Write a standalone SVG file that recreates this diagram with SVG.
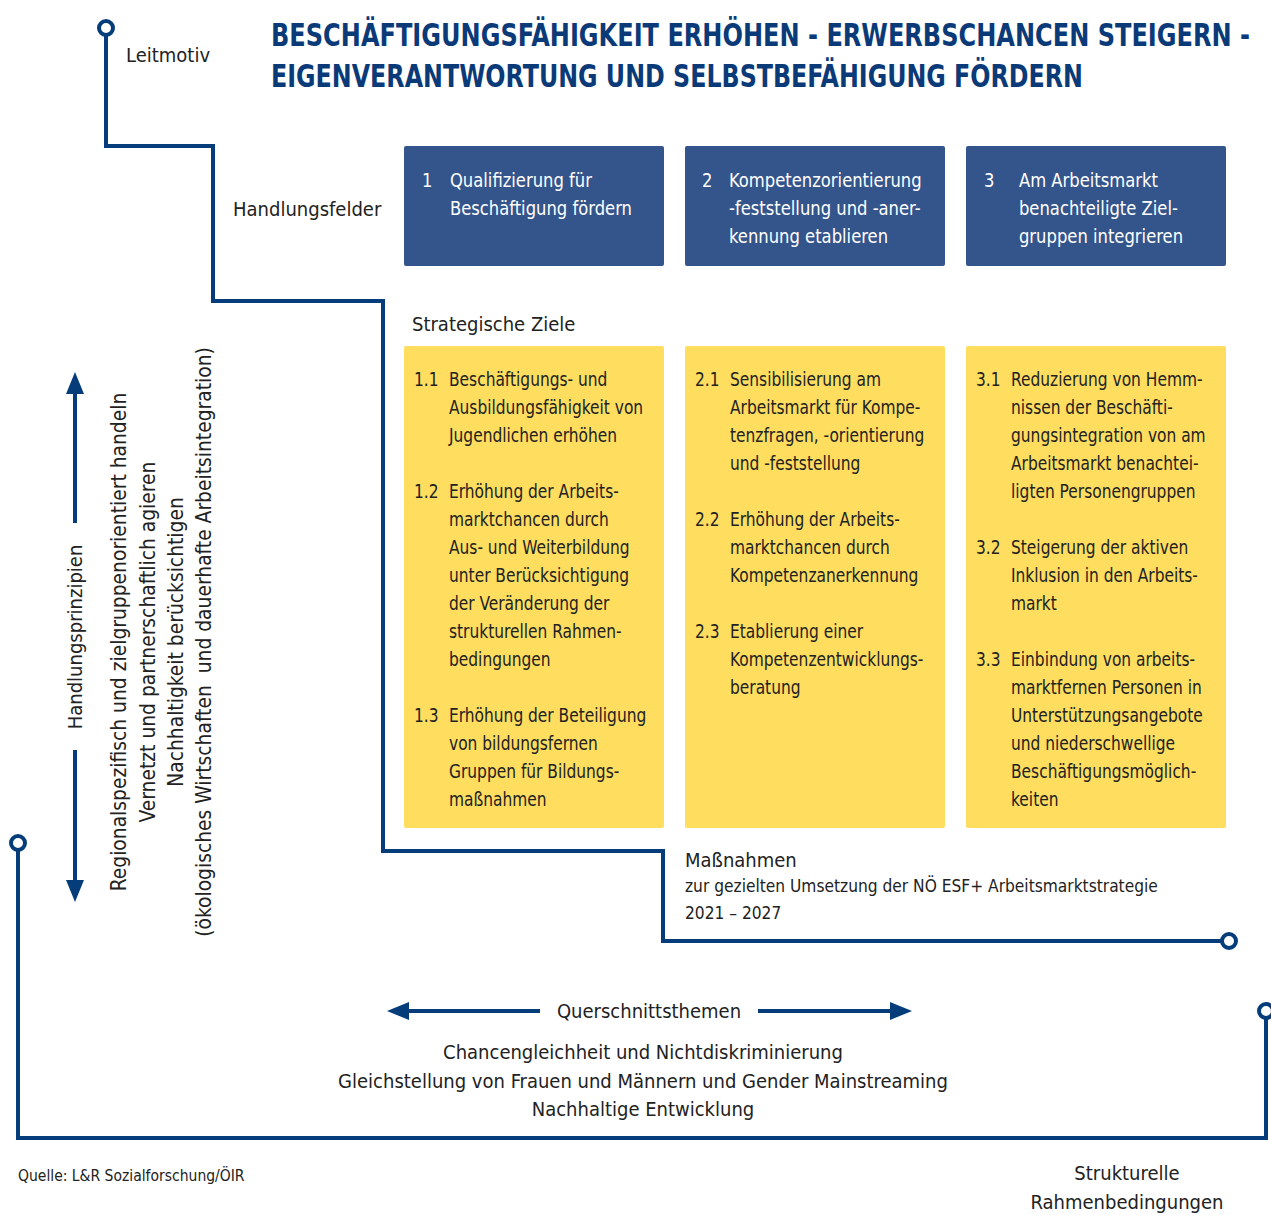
<svg xmlns="http://www.w3.org/2000/svg" width="1271" height="1215" viewBox="0 0 1271 1215">
<defs>
<style>
text{font-family:"DejaVu Sans Condensed","DejaVu Sans","Liberation Sans",sans-serif;font-stretch:condensed;fill:#222;}
.t{font-size:19.5px;}
.w{fill:#fff;font-size:19.5px;}
.lab{font-size:20px;}
.vl{font-size:20.8px;}
.title{font-size:32px;font-weight:bold;fill:#0b3a78;}
.ln{fill:none;stroke:#053d7b;stroke-width:4;}
.dot{fill:#fff;stroke:#053d7b;stroke-width:4;}
.blue{fill:#34558b;}
.yel{fill:#fedd5f;}
.ah{fill:#053d7b;}
</style>
</defs>
<rect width="1271" height="1215" fill="#fff"/>
<g id="connectors">
<polyline class="ln" points="106,35 106,146 213,146 213,301 383,301 383,851 663,851 663,941 1222,941"/>
<circle class="dot" cx="106" cy="28" r="7"/>
<circle class="dot" cx="1229" cy="941" r="7"/>
<polyline class="ln" points="18,850 18,1138 1266,1138 1266,1018"/>
<circle class="dot" cx="18" cy="843" r="7"/>
<circle class="dot" cx="1266" cy="1011" r="7"/>
<line class="ln" x1="75" y1="390" x2="75" y2="523"/>
<line class="ln" x1="75" y1="750" x2="75" y2="885"/>
<polygon class="ah" points="75,372 66,394 84,394"/>
<polygon class="ah" points="75,902 66,880 84,880"/>
<line class="ln" x1="405" y1="1011" x2="540" y2="1011"/>
<line class="ln" x1="758" y1="1011" x2="893" y2="1011"/>
<polygon class="ah" points="387,1011 409,1002 409,1020"/>
<polygon class="ah" points="912,1011 890,1002 890,1020"/>
</g>
<g id="title" transform="translate(271,0) scale(0.8,1)">
<text class="title" x="0" y="46" textLength="1223.75" lengthAdjust="spacingAndGlyphs">BESCHÄFTIGUNGSFÄHIGKEIT ERHÖHEN - ERWERBSCHANCEN STEIGERN -</text>
<text class="title" x="0" y="87" textLength="1015" lengthAdjust="spacingAndGlyphs">EIGENVERANTWORTUNG UND SELBSTBEFÄHIGUNG FÖRDERN</text>
</g>
<g id="labels">
<text class="lab" x="126" y="62">Leitmotiv</text>
<text class="lab" x="233" y="216">Handlungsfelder</text>
<text class="lab" x="412" y="331">Strategische Ziele</text>
<text class="lab" x="685" y="867" font-size="21">Maßnahmen</text>
<text x="685" y="892" font-size="17.2">zur gezielten Umsetzung der NÖ ESF+ Arbeitsmarktstrategie</text>
<text x="685" y="919" font-size="17.2">2021 – 2027</text>
</g>
<g id="hf1">
<rect class="blue" x="404" y="146" width="260" height="120" rx="2"/>
<g transform="translate(422,0) scale(0.935,1)">
<text class="w" x="0" y="187">1</text>
<text class="w"><tspan x="29.9" y="187">Qualifizierung für</tspan><tspan x="29.9" y="215">Beschäftigung fördern</tspan></text>
</g>
</g>
<g id="hf2">
<rect class="blue" x="685" y="146" width="260" height="120" rx="2"/>
<g transform="translate(702,0) scale(0.935,1)">
<text class="w" x="0" y="187">2</text>
<text class="w"><tspan x="28.9" y="187">Kompetenzorientierung</tspan><tspan x="28.9" y="215">-feststellung und -aner-</tspan><tspan x="28.9" y="243">kennung etablieren</tspan></text>
</g>
</g>
<g id="hf3">
<rect class="blue" x="966" y="146" width="260" height="120" rx="2"/>
<g transform="translate(984,0) scale(0.935,1)">
<text class="w" x="0" y="187">3</text>
<text class="w"><tspan x="37.4" y="187">Am Arbeitsmarkt</tspan><tspan x="37.4" y="215">benachteiligte Ziel-</tspan><tspan x="37.4" y="243">gruppen integrieren</tspan></text>
</g>
</g>
<g id="ziele1">
<rect class="yel" x="404" y="346" width="260" height="482" rx="2"/>
<g transform="translate(414,0) scale(0.88,1)">
<text class="t" x="0" y="386">1.1</text>
<text class="t"><tspan x="39.8" y="386">Beschäftigungs- und</tspan><tspan x="39.8" y="414">Ausbildungsfähigkeit von</tspan><tspan x="39.8" y="442">Jugendlichen erhöhen</tspan></text>
<text class="t" x="0" y="498">1.2</text>
<text class="t"><tspan x="39.8" y="498">Erhöhung der Arbeits-</tspan><tspan x="39.8" y="526">marktchancen durch</tspan><tspan x="39.8" y="554">Aus- und Weiterbildung</tspan><tspan x="39.8" y="582">unter Berücksichtigung</tspan><tspan x="39.8" y="610">der Veränderung der</tspan><tspan x="39.8" y="638">strukturellen Rahmen-</tspan><tspan x="39.8" y="666">bedingungen</tspan></text>
<text class="t" x="0" y="722">1.3</text>
<text class="t"><tspan x="39.8" y="722">Erhöhung der Beteiligung</tspan><tspan x="39.8" y="750">von bildungsfernen</tspan><tspan x="39.8" y="778">Gruppen für Bildungs-</tspan><tspan x="39.8" y="806">maßnahmen</tspan></text>
</g>
</g>
<g id="ziele2">
<rect class="yel" x="685" y="346" width="260" height="482" rx="2"/>
<g transform="translate(695,0) scale(0.88,1)">
<text class="t" x="0" y="386">2.1</text>
<text class="t"><tspan x="39.8" y="386">Sensibilisierung am</tspan><tspan x="39.8" y="414">Arbeitsmarkt für Kompe-</tspan><tspan x="39.8" y="442">tenzfragen, -orientierung</tspan><tspan x="39.8" y="470">und -feststellung</tspan></text>
<text class="t" x="0" y="526">2.2</text>
<text class="t"><tspan x="39.8" y="526">Erhöhung der Arbeits-</tspan><tspan x="39.8" y="554">marktchancen durch</tspan><tspan x="39.8" y="582">Kompetenzanerkennung</tspan></text>
<text class="t" x="0" y="638">2.3</text>
<text class="t"><tspan x="39.8" y="638">Etablierung einer</tspan><tspan x="39.8" y="666">Kompetenzentwicklungs-</tspan><tspan x="39.8" y="694">beratung</tspan></text>
</g>
</g>
<g id="ziele3">
<rect class="yel" x="966" y="346" width="260" height="482" rx="2"/>
<g transform="translate(976,0) scale(0.88,1)">
<text class="t" x="0" y="386">3.1</text>
<text class="t"><tspan x="39.8" y="386">Reduzierung von Hemm-</tspan><tspan x="39.8" y="414">nissen der Beschäfti-</tspan><tspan x="39.8" y="442">gungsintegration von am</tspan><tspan x="39.8" y="470">Arbeitsmarkt benachtei-</tspan><tspan x="39.8" y="498">ligten Personengruppen</tspan></text>
<text class="t" x="0" y="554">3.2</text>
<text class="t"><tspan x="39.8" y="554">Steigerung der aktiven</tspan><tspan x="39.8" y="582">Inklusion in den Arbeits-</tspan><tspan x="39.8" y="610">markt</tspan></text>
<text class="t" x="0" y="666">3.3</text>
<text class="t"><tspan x="39.8" y="666">Einbindung von arbeits-</tspan><tspan x="39.8" y="694">marktfernen Personen in</tspan><tspan x="39.8" y="722">Unterstützungsangebote</tspan><tspan x="39.8" y="750">und niederschwellige</tspan><tspan x="39.8" y="778">Beschäftigungsmöglich-</tspan><tspan x="39.8" y="806">keiten</tspan></text>
</g>
</g>
<g id="prinzipien">
<text class="lab" text-anchor="middle" transform="translate(82,637) rotate(-90)">Handlungsprinzipien</text>
<g transform="translate(0,642) rotate(-90)">
<text class="vl" text-anchor="middle" x="0" y="126">Regionalspezifisch und zielgruppenorientiert handeln</text>
<text class="vl" text-anchor="middle" x="0" y="155">Vernetzt und partnerschaftlich agieren</text>
<text class="vl" text-anchor="middle" x="0" y="183">Nachhaltigkeit berücksichtigen</text>
<text class="vl" text-anchor="middle" x="0" y="211">(ökologisches Wirtschaften&#160; und dauerhafte Arbeitsintegration)</text>
</g>
</g>
<g id="querschnitt">
<text class="lab" x="649" y="1018" text-anchor="middle" font-size="21">Querschnittsthemen</text>
<text class="lab" x="643" y="1059" text-anchor="middle">Chancengleichheit und Nichtdiskriminierung</text>
<text class="lab" x="643" y="1088" text-anchor="middle">Gleichstellung von Frauen und Männern und Gender Mainstreaming</text>
<text class="lab" x="643" y="1116" text-anchor="middle">Nachhaltige Entwicklung</text>
</g>
<g id="footer">
<text x="18" y="1181" font-size="15.5" fill="#333">Quelle: L&amp;R Sozialforschung/ÖIR</text>
<text class="lab" x="1127" y="1180" text-anchor="middle">Strukturelle</text>
<text class="lab" x="1127" y="1209" text-anchor="middle">Rahmenbedingungen</text>
</g>
</svg>
